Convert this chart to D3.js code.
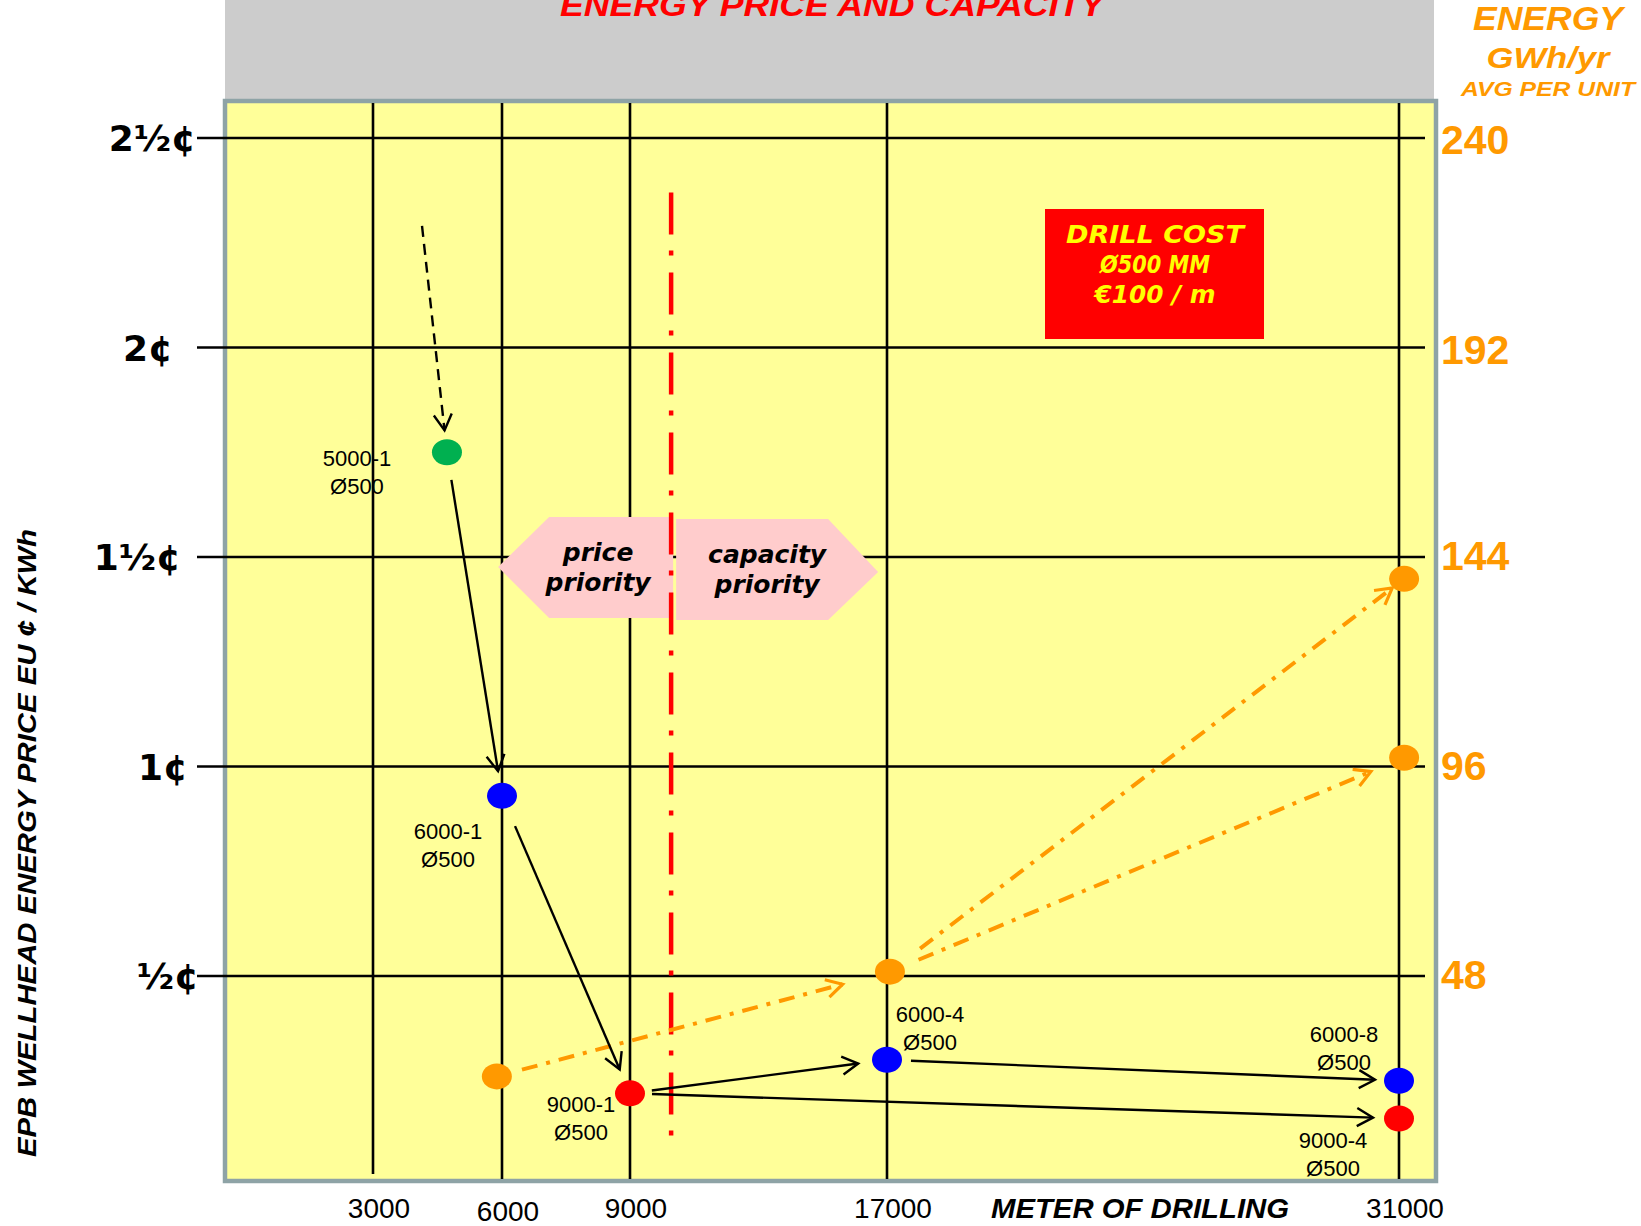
<!DOCTYPE html>
<html lang="en">
<head>
<meta charset="UTF-8"/>
<title>Energy price and capacity</title>
<script src="https://d3js.org/d3.v7.min.js"></script>
<style>
    body { margin: 0; background: #ffffff; }
    svg { display: block; }
</style>
</head>
<body>
<div id="chart"></div>
<script>
    // x axis: meters of drilling
    var drillTicks = [3000, 6000, 9000, 17000, 31000];
    // left axis: wellhead price, EU cents per kWh
    var priceTicks = [0.5, 1, 1.5, 2, 2.5];
    var priceLabels = ["½¢", "1¢", "1½¢", "2¢", "2½¢"];
    // right axis: energy, GWh/yr average per unit
    var energyTicks = [48, 96, 144, 192, 240];

    // price points (one per well set)
    var wellNames = ["5000-1", "6000-1", "9000-1", "6000-4", "6000-8", "9000-4"];
    var wellDepth = [5000, 6000, 9000, 6000, 6000, 9000];
    var wellDrill = [4720, 6000, 9000, 17000, 31000, 31000];
    var wellPrice = [1.75, 0.93, 0.22, 0.30, 0.25, 0.16];

    // energy points (orange)
    var energyDrill = [5880, 17080, 31140, 31140];
    var energyValue = [25, 49, 139, 98];

    // arrows between points (index pairs)
    var priceArrows = [[0, 1], [1, 2], [2, 3], [2, 5], [3, 4]];
    var energyArrows = [[0, 1], [1, 2], [1, 3]];
    // dashed lead-in arrow start [drill, price]
    var leadStart = [4140, 2.29];
    // price / capacity divider
    var dividerDrill = 10280;

    // ---- layout (pixels) ----
    var width = 1641, height = 1226;
    var plotLeft = 225, plotRight = 1436, plotTop = 101, plotBottom = 1181;
    var priceGaps = [[28, 25], [33, 26], [22, 29], [22, 26], [24, 24]];
    var energyGaps = [[26, 49], [38, 15], [31, 36]];
    var labelOffsets = [[-90, 14], [-54, 43], [-49, 19], [43, -38], [-55, -39], [-66, 30]];
    var priceLabelRight = [199, 188, 181, 173, 196];

    var svg = d3.select("#chart")
        .append("svg")
        .attr("width", width)
        .attr("height", height);

    var xScale = d3.scaleLinear()
        .domain(drillTicks)
        .range([373, 502, 630, 887, 1399]);

    var yScale = d3.scaleLinear()
        .domain([0, 2.5])
        .range([1185.5, 138]);

    var eScale = d3.scaleLinear()
        .domain([0, 240])
        .range([1185.5, 138]);

    var depthColour = d3.scaleOrdinal()
        .domain([5000, 6000, 9000])
        .range(["#00b050", "#0000ff", "#ff0000"]);

    // markers
    var defs = svg.append("defs");
    function marker(id, colour, sw) {
        defs.append("marker")
            .attr("id", id)
            .attr("viewBox", "-20 -12 24 24")
            .attr("markerWidth", 24)
            .attr("markerHeight", 24)
            .attr("refX", 0)
            .attr("refY", 0)
            .attr("markerUnits", "userSpaceOnUse")
            .attr("orient", "auto")
            .append("path")
            .attr("d", "M-16,-9 L0,0 L-16,9")
            .attr("fill", "none")
            .attr("stroke", colour)
            .attr("stroke-width", sw);
    }
    marker("headBlack", "#000", 2.4);
    marker("headOrange", "#ff9900", 3.2);

    // grey title band
    svg.append("rect")
        .attr("x", plotLeft).attr("y", 0)
        .attr("width", 1434 - plotLeft).attr("height", plotTop)
        .attr("fill", "#cccccc");

    svg.append("text")
        .attr("x", 832).attr("y", 16)
        .attr("text-anchor", "middle")
        .attr("font-family", "Liberation Sans, Arial, sans-serif")
        .attr("font-weight", "bold").attr("font-style", "italic")
        .attr("font-size", "31px")
        .attr("textLength", 544).attr("lengthAdjust", "spacingAndGlyphs")
        .attr("fill", "#ff0000")
        .text("ENERGY PRICE AND CAPACITY");

    // yellow plot area
    svg.append("rect")
        .attr("x", plotLeft).attr("y", plotTop)
        .attr("width", plotRight - plotLeft).attr("height", plotBottom - plotTop)
        .attr("fill", "#ffff99")
        .attr("stroke", "#8ea3a6")
        .attr("stroke-width", 4.5);

    // vertical grid
    svg.selectAll("line.vgrid")
        .data(drillTicks)
        .enter()
        .append("line")
        .attr("class", "vgrid")
        .attr("x1", function(d) { return xScale(d); })
        .attr("x2", function(d) { return xScale(d); })
        .attr("y1", plotTop + 2)
        .attr("y2", function(d) { return d === 3000 ? 1174 : plotBottom - 2; })
        .attr("stroke", "#000")
        .attr("stroke-width", 2.6);

    // horizontal grid
    svg.selectAll("line.hgrid")
        .data(priceTicks)
        .enter()
        .append("line")
        .attr("class", "hgrid")
        .attr("x1", 197)
        .attr("x2", 1425)
        .attr("y1", function(d) { return yScale(d); })
        .attr("y2", function(d) { return yScale(d); })
        .attr("stroke", "#000")
        .attr("stroke-width", 2.6);

    // left tick labels
    svg.selectAll("text.plabel")
        .data(priceTicks)
        .enter()
        .append("text")
        .attr("class", "plabel")
        .attr("x", function(d, i) { return priceLabelRight[i]; })
        .attr("y", function(d) { return yScale(d) + 13; })
        .attr("text-anchor", "end")
        .attr("font-family", "DejaVu Sans, Verdana, sans-serif")
        .attr("font-weight", "bold")
        .attr("font-size", "36px")
        .attr("fill", "#000")
        .text(function(d, i) { return priceLabels[i]; });

    // right tick labels
    svg.selectAll("text.elabel")
        .data(energyTicks)
        .enter()
        .append("text")
        .attr("class", "elabel")
        .attr("x", 1441)
        .attr("y", function(d) { return eScale(d) + (d >= 192 ? 16 : 13); })
        .attr("font-family", "Liberation Sans, Arial, sans-serif")
        .attr("font-weight", "bold")
        .attr("font-size", "41px")
        .attr("fill", "#ff9900")
        .text(function(d) { return d; });

    // right axis title
    var eTitle = [["ENERGY", 30, 33, 150], ["GWh/yr", 68, 30, 123], ["AVG PER UNIT", 96, 21, 174]];
    svg.selectAll("text.etitle")
        .data(eTitle)
        .enter()
        .append("text")
        .attr("class", "etitle")
        .attr("x", 1548)
        .attr("y", function(d) { return d[1]; })
        .attr("text-anchor", "middle")
        .attr("font-family", "Liberation Sans, Arial, sans-serif")
        .attr("font-weight", "bold").attr("font-style", "italic")
        .attr("font-size", function(d) { return d[2] + "px"; })
        .attr("textLength", function(d) { return d[3]; })
        .attr("lengthAdjust", "spacingAndGlyphs")
        .attr("fill", "#ff9900")
        .text(function(d) { return d[0]; });

    // y axis title
    svg.append("text")
        .attr("transform", "translate(36,843)rotate(-90)")
        .attr("text-anchor", "middle")
        .attr("font-family", "Liberation Sans, Arial, sans-serif")
        .attr("font-weight", "bold").attr("font-style", "italic")
        .attr("font-size", "26px")
        .attr("textLength", 628).attr("lengthAdjust", "spacingAndGlyphs")
        .attr("fill", "#000")
        .text("EPB WELLHEAD ENERGY PRICE EU ¢ / KWh");

    // x tick labels
    svg.selectAll("text.xlabel")
        .data(drillTicks)
        .enter()
        .append("text")
        .attr("class", "xlabel")
        .attr("x", function(d) { return xScale(d) + 6; })
        .attr("y", function(d) { return d === 6000 ? 1221 : 1218; })
        .attr("text-anchor", "middle")
        .attr("font-family", "Liberation Sans, Arial, sans-serif")
        .attr("font-size", "28px")
        .attr("fill", "#000")
        .text(function(d) { return d; });

    svg.append("text")
        .attr("x", 1140).attr("y", 1218)
        .attr("text-anchor", "middle")
        .attr("font-family", "Liberation Sans, Arial, sans-serif")
        .attr("font-weight", "bold").attr("font-style", "italic")
        .attr("font-size", "28px")
        .attr("textLength", 298).attr("lengthAdjust", "spacingAndGlyphs")
        .attr("fill", "#000")
        .text("METER OF DRILLING");

    // price / capacity priority shapes
    var divX = xScale(dividerDrill);
    var shapes = [
        { pts: [[divX - 173, 567], [divX - 122, 517], [divX + 2, 517], [divX + 2, 618], [divX - 122, 618]],
          cx: divX - 73, lines: ["price", "priority"], y0: 561 },
        { pts: [[divX + 5, 519], [divX + 157, 519], [divX + 207, 572], [divX + 157, 620], [divX + 5, 620]],
          cx: divX + 96, lines: ["capacity", "priority"], y0: 563 }
    ];
    shapes.forEach(function(s) {
        svg.append("polygon")
            .attr("points", s.pts.map(function(p) { return p.join(","); }).join(" "))
            .attr("fill", "#ffcccc");
        s.lines.forEach(function(t, i) {
            svg.append("text")
                .attr("x", s.cx).attr("y", s.y0 + i * 30)
                .attr("text-anchor", "middle")
                .attr("font-family", "DejaVu Sans, Verdana, sans-serif")
                .attr("font-weight", "bold").attr("font-style", "italic")
                .attr("font-size", "25px")
                .attr("fill", "#000")
                .text(t);
        });
    });

    // divider line
    svg.append("line")
        .attr("x1", divX).attr("x2", divX)
        .attr("y1", yScale(2.37)).attr("y2", yScale(0.08))
        .attr("stroke", "#ff0000")
        .attr("stroke-width", 4.5)
        .attr("stroke-dasharray", "42,16,5,17");

    // drill cost box
    svg.append("rect")
        .attr("x", 1045).attr("y", 209)
        .attr("width", 219).attr("height", 130)
        .attr("fill", "#ff0000");
    [["DRILL COST", 178], ["Ø500 MM", 110], ["€100 / m", 121]].forEach(function(t, i) {
        svg.append("text")
            .attr("x", 1155).attr("y", 243 + i * 30)
            .attr("text-anchor", "middle")
            .attr("font-family", "DejaVu Sans, Verdana, sans-serif")
            .attr("font-weight", "bold").attr("font-style", "italic")
            .attr("font-size", "24px")
            .attr("textLength", t[1]).attr("lengthAdjust", "spacingAndGlyphs")
            .attr("fill", "#ffff00")
            .text(t[0]);
    });

    // helper for arrows
    function drawArrow(x1, y1, x2, y2, g1, g2, colour, sw, dash, head) {
        var dx = x2 - x1, dy = y2 - y1;
        var len = Math.sqrt(dx * dx + dy * dy);
        var ux = dx / len, uy = dy / len;
        svg.append("line")
            .attr("x1", x1 + ux * g1).attr("y1", y1 + uy * g1)
            .attr("x2", x2 - ux * g2).attr("y2", y2 - uy * g2)
            .attr("stroke", colour)
            .attr("stroke-width", sw)
            .attr("stroke-dasharray", dash)
            .attr("marker-end", "url(#" + head + ")");
    }

    // energy arrows (orange dash-dot)
    energyArrows.forEach(function(a, i) {
        drawArrow(xScale(energyDrill[a[0]]), eScale(energyValue[a[0]]),
                  xScale(energyDrill[a[1]]), eScale(energyValue[a[1]]),
                  energyGaps[i][0], energyGaps[i][1], "#ff9900", 4, "16,9,4,9", "headOrange");
    });

    // lead-in dashed arrow
    drawArrow(xScale(leadStart[0]), yScale(leadStart[1]),
              xScale(wellDrill[0]), yScale(wellPrice[0]),
              0, 22, "#000", 2.4, "11,7", "headBlack");

    // price arrows
    priceArrows.forEach(function(a, i) {
        drawArrow(xScale(wellDrill[a[0]]), yScale(wellPrice[a[0]]),
                  xScale(wellDrill[a[1]]), yScale(wellPrice[a[1]]),
                  priceGaps[i][0], priceGaps[i][1], "#000", 2.4, null, "headBlack");
    });

    // energy points
    svg.selectAll("ellipse.energy")
        .data(energyValue)
        .enter()
        .append("ellipse")
        .attr("class", "energy")
        .attr("cx", function(d, i) { return xScale(energyDrill[i]); })
        .attr("cy", function(d) { return eScale(d); })
        .attr("rx", 15).attr("ry", 13)
        .attr("fill", "#ff9900");

    // price points
    svg.selectAll("ellipse.well")
        .data(wellPrice)
        .enter()
        .append("ellipse")
        .attr("class", "well")
        .attr("cx", function(d, i) { return xScale(wellDrill[i]); })
        .attr("cy", function(d) { return yScale(d); })
        .attr("rx", 15).attr("ry", 13)
        .attr("fill", function(d, i) { return depthColour(wellDepth[i]); });

    // point labels
    wellNames.forEach(function(name, i) {
        var px = xScale(wellDrill[i]) + labelOffsets[i][0];
        var py = yScale(wellPrice[i]) + labelOffsets[i][1];
        [name, "Ø500"].forEach(function(t, j) {
            svg.append("text")
                .attr("x", px).attr("y", py + j * 28)
                .attr("text-anchor", "middle")
                .attr("font-family", "Liberation Sans, Arial, sans-serif")
                .attr("font-size", "22px")
                .attr("fill", "#000")
                .text(t);
        });
    });
</script>
</body>
</html>
